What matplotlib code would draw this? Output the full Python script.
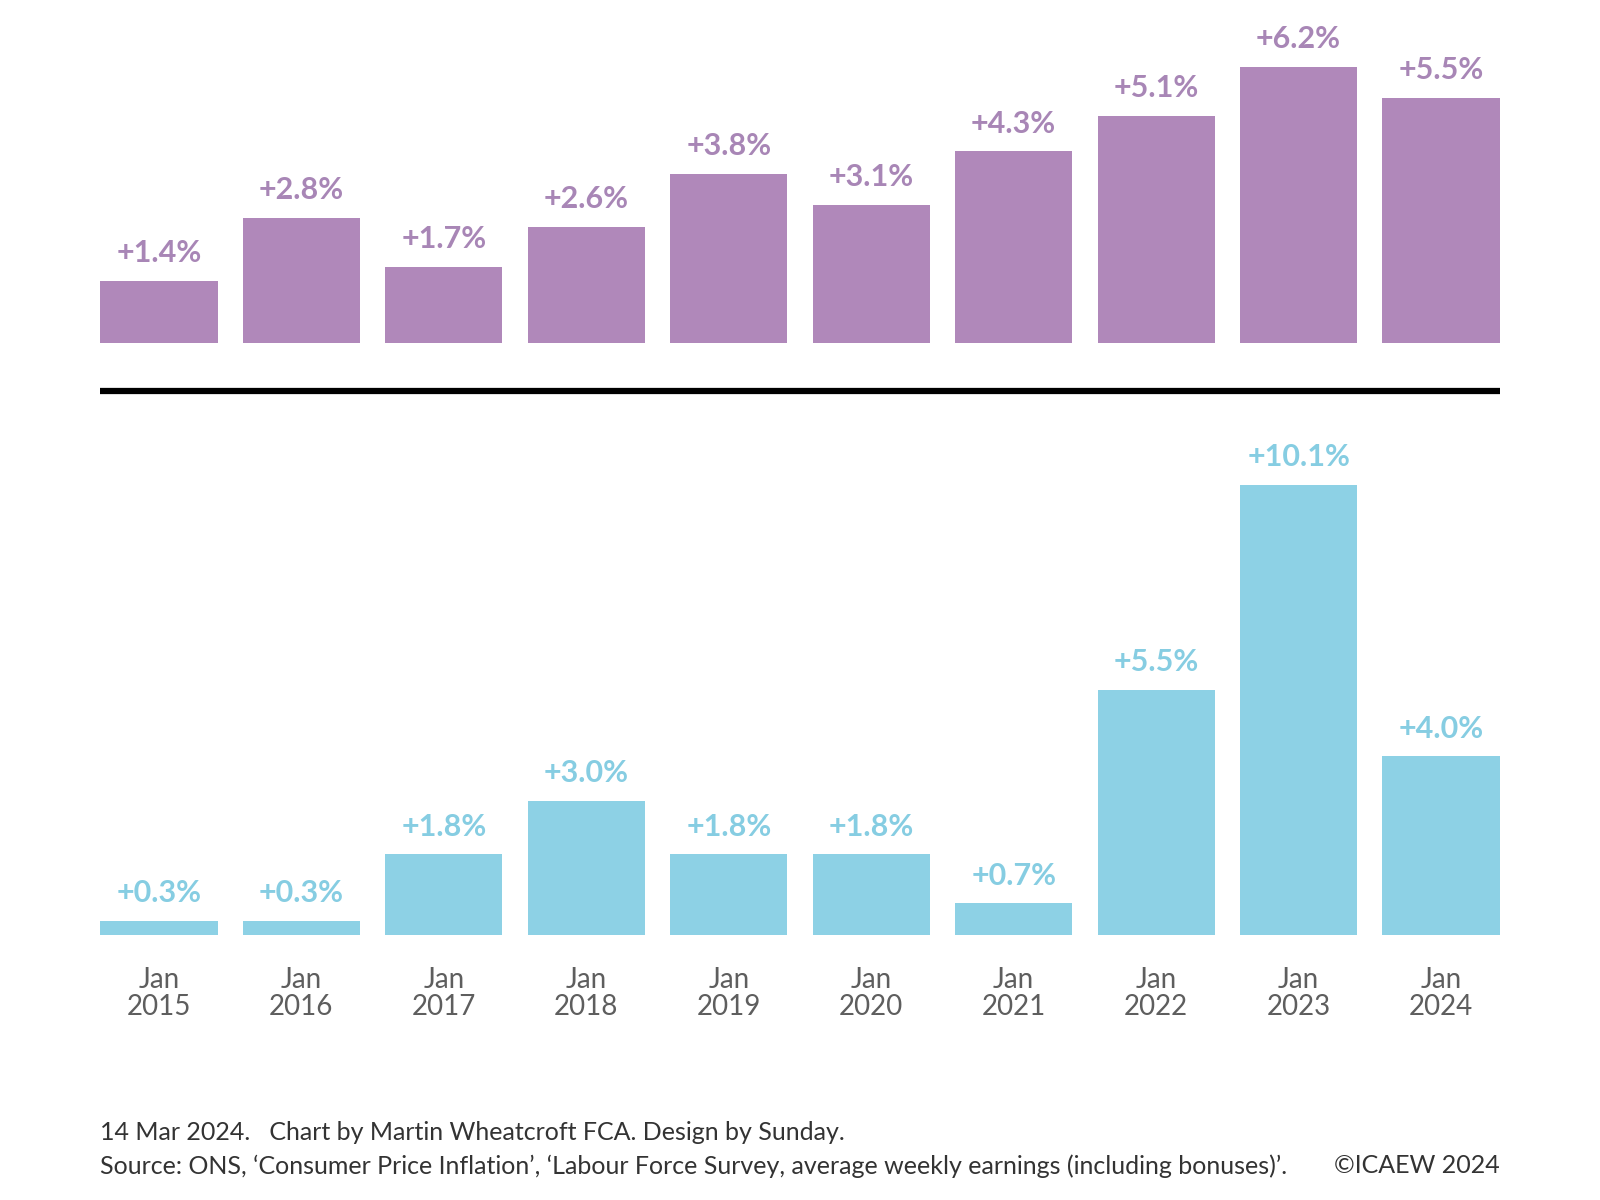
import matplotlib
matplotlib.use("Agg")
import matplotlib.pyplot as plt
from matplotlib.lines import Line2D

years = ["2015", "2016", "2017", "2018", "2019", "2020", "2021", "2022", "2023", "2024"]
tick_labels = ["Jan\n" + y for y in years]
earnings_growth = [1.4, 2.8, 1.7, 2.6, 3.8, 3.1, 4.3, 5.1, 6.2, 5.5]
cpi_inflation = [0.3, 0.3, 1.8, 3.0, 1.8, 1.8, 0.7, 5.5, 10.1, 4.0]

PURPLE = "#B088BA"
PURPLE_TXT = "#A886B6"
BLUE = "#8DD1E5"
BLUE_TXT = "#86CDE2"
GREY = "#5E5E5E"

W, H = 1600, 1200
S = 1600 / 1563.0  # layout measured on a scaled view

fig = plt.figure(figsize=(16, 12), dpi=100)
fig.patch.set_facecolor("white")

px_per_unit = 43.5 * S
left_px, right_px = 98 * S, 1465 * S
bw = 0.823
x = list(range(len(years)))

def make_ax(top_px, base_px):
    top_px *= S
    base_px *= S
    ax = fig.add_axes([left_px / W, 1 - base_px / H, (right_px - left_px) / W, (base_px - top_px) / H])
    ax.set_xlim(-bw / 2, len(years) - 1 + bw / 2)
    ax.set_ylim(0, (base_px - top_px) / px_per_unit)
    for s in ax.spines.values():
        s.set_visible(False)
    ax.set_yticks([])
    ax.patch.set_alpha(0)
    return ax

ax1 = make_ax(12, 335)
ax1.bar(x, earnings_growth, width=bw, color=PURPLE)
for xi, v in zip(x, earnings_growth):
    ax1.annotate(f"+{v:.1f}%", (xi, v), xytext=(0, 10), textcoords="offset points",
                 ha="center", va="bottom", fontsize=22, fontweight="bold",
                 color=PURPLE_TXT, family="Lato")
ax1.set_xticks([])

ax2 = make_ax(420, 913)
ax2.bar(x, cpi_inflation, width=bw, color=BLUE)
for xi, v in zip(x, cpi_inflation):
    ax2.annotate(f"+{v:.1f}%", (xi, v), xytext=(0, 10), textcoords="offset points",
                 ha="center", va="bottom", fontsize=22, fontweight="bold",
                 color=BLUE_TXT, family="Lato")
ax2.set_xticks(x)
ax2.set_xticklabels(tick_labels, fontsize=20, color=GREY, family="Lato",
                    fontweight="normal", linespacing=1.05)
ax2.tick_params(axis="x", length=0, pad=23)

# divider line
yl = 1 - 382 * S / H
fig.add_artist(Line2D([left_px / W, right_px / W], [yl, yl],
                      color="black", linewidth=4.5, solid_capstyle="butt"))

FOOT = dict(fontsize=18, color="#333333", family="Lato")
fig.text(left_px / W, 1 - 1106 * S / H,
         "14 Mar 2024.   Chart by Martin Wheatcroft FCA. Design by Sunday.",
         ha="left", va="center", **FOOT)
fig.text(left_px / W, 1 - 1139 * S / H,
         "Source: ONS, \u2018Consumer Price Inflation\u2019, \u2018Labour Force Survey, average weekly earnings (including bonuses)\u2019.",
         ha="left", va="center", **FOOT)
fig.text(right_px / W, 1 - 1139 * S / H, "\u00a9ICAEW 2024",
         ha="right", va="center", **FOOT)

fig.savefig("out.png", dpi=100, facecolor="white")
